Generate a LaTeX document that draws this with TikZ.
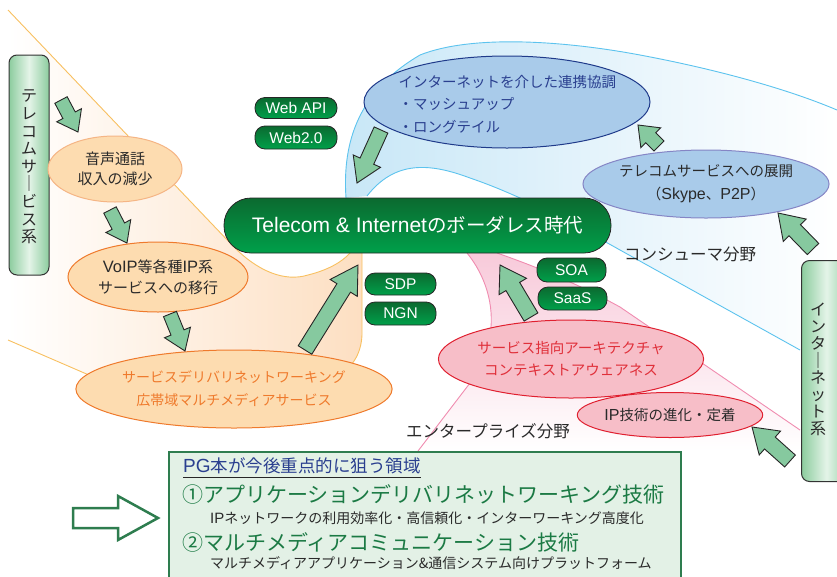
\documentclass[tikz,border=0pt]{standalone}
\usepackage{fontspec}
\setmainfont{Noto Sans CJK JP}
\newfontfamily\lat{Liberation Sans}
\usetikzlibrary{calc,shapes.geometric}
\definecolor{garrowfill}{HTML}{86C99F}
\definecolor{pillA}{HTML}{0B6A30}
\definecolor{pillB}{HTML}{00A04A}
\definecolor{orline}{HTML}{F8C060}
\definecolor{orfill}{HTML}{FDDFC2}
\definecolor{bluel}{HTML}{5CC3EE}
\definecolor{bluef}{HTML}{C8E7F7}
\definecolor{pinkl}{HTML}{F08CB0}
\definecolor{pinkf}{HTML}{F8CADA}
\definecolor{ellO}{HTML}{FDDCB0}
\definecolor{ellOl}{HTML}{EF7A2C}
\definecolor{ellOl2}{HTML}{F5B585}
\definecolor{ellB}{HTML}{A9CBEA}
\definecolor{ellBl}{HTML}{1F3A8A}
\definecolor{ellBl2}{HTML}{8585C5}
\definecolor{ellR}{HTML}{F7BEC8}
\definecolor{ellRl}{HTML}{E02030}
\definecolor{txtR}{HTML}{E0303A}
\definecolor{txtO}{HTML}{EF7A2C}
\definecolor{txtB}{HTML}{2A3F8F}
\definecolor{boxF}{HTML}{E3F1E6}
\definecolor{boxL}{HTML}{2E7D4F}
\definecolor{gtext}{HTML}{1B7A44}
\definecolor{vboxE}{HTML}{8CCC9E}
\definecolor{vboxM}{HTML}{E4F4E8}
\definecolor{dtext}{HTML}{2A2A2A}
\tikzset{
  pill/.style={rectangle, rounded corners=10pt, draw=black!85, line width=0.8pt,
    top color=pillA, bottom color=pillB, text=white, inner sep=0pt,
    font=\lat\fontsize{15.5}{15.5}\selectfont},
  ell/.style={ellipse, inner sep=0pt, line width=1pt, align=center},
  garrowst/.style={draw=black!85, fill=garrowfill, line width=0.9pt, line join=miter},
  vbox/.style={rectangle, rounded corners=8pt, draw=black!80, line width=1pt,
    left color=vboxE, right color=vboxE, middle color=vboxM, inner sep=0pt},
  vtext/.style={align=center, text=dtext, font=\fontsize{16}{17.6}\selectfont},
  lbl/.style={text=dtext, font=\fontsize{16.5}{16.5}\selectfont},
}
\newcommand\garr[6]{%
  \coordinate (#1-t) at #2; \coordinate (#1-h) at #3;
  \coordinate (#1-b) at ($(#1-h)!#6!(#1-t)$);
  \draw[garrowst] ($(#1-t)!#4!90:(#1-h)$) -- ($(#1-t)!#4!-90:(#1-h)$)
    -- ($(#1-b)!#4!-90:(#1-h)$) -- ($(#1-b)!#5!-90:(#1-h)$) -- (#1-h)
    -- ($(#1-b)!#5!90:(#1-h)$) -- ($(#1-b)!#4!90:(#1-h)$) -- cycle;}
\begin{document}
\begin{tikzpicture}[x=1pt,y=-1pt]
\useasboundingbox (0,0) rectangle (837,576);
% ---- orange region
\path[left color=white, right color=orfill]
  (8,10) -- (232,245) .. controls (258,272) and (285,282) .. (308,275)
  .. controls (328,270) and (342,262) .. (350,253) -- (362,253) -- (362,335)
  .. controls (361,355) and (352,368) .. (335,378) -- (112,385) -- (8,340) -- cycle;
\draw[orline, line width=0.9pt] (8,10) -- (232,245) .. controls (258,272) and (285,282) .. (308,275)
  .. controls (328,270) and (342,262) .. (350,253);
\draw[orline, line width=0.9pt] (362,253) -- (362,335) .. controls (361,355) and (352,368) .. (335,378);
\draw[orline, line width=0.9pt] (8,340) -- (112,385);
% ---- blue region
\path[left color=bluef, right color=white]
  (346,198) .. controls (342,140) and (360,90) .. (420,55)
  .. controls (470,35) and (560,40) .. (640,55) .. controls (720,70) and (790,90) .. (837,110)
  -- (837,350) -- (800,350) -- (620,250) .. controls (570,222) and (520,195) .. (470,178)
  .. controls (430,163) and (395,160) .. (367,196) -- cycle;
\draw[bluel, line width=0.9pt] (346,198) .. controls (342,140) and (360,90) .. (420,55)
  .. controls (470,35) and (560,40) .. (640,55) .. controls (720,70) and (790,90) .. (837,110);
\draw[bluel, line width=0.9pt] (800,350) -- (620,250) .. controls (570,222) and (520,195) .. (470,178)
  .. controls (430,163) and (395,160) .. (367,196);
% ---- pink region
\path[top color=pinkf, bottom color=white]
  (467,253) -- (497,253) .. controls (540,268) and (580,285) .. (620,307) -- (800,430)
  -- (800,451) -- (418,451) -- (470,383) .. controls (480,370) and (487,355) .. (490,335)
  .. controls (495,305) and (485,275) .. (467,253) -- cycle;
\draw[pinkl, line width=0.9pt] (497,253) .. controls (540,268) and (580,285) .. (620,307) -- (800,430);
\draw[pinkl, line width=0.9pt] (418,451) -- (470,383) .. controls (480,370) and (487,355) .. (490,335)
  .. controls (495,305) and (485,275) .. (467,253);
% ---- vertical boxes
\node[vbox, minimum width=40pt, minimum height=220pt] (tel) at (29,165) {};
\node[vtext] (telt) at (29,167) {テ\\レ\\コ\\ム\\サ\\｜\\ビ\\ス\\系};
\node[vbox, minimum width=50pt, minimum height=221pt, anchor=north west] (inet) at (801,260) {};
\node[vtext, font=\fontsize{16}{17}\selectfont] (inett) at (818,369) {イ\\ン\\タ\\｜\\ネ\\ッ\\ト\\系};
% ---- ellipses
\node[ell, draw=ellOl2, fill=ellO, minimum width=134pt, minimum height=66pt,
  font=\fontsize{15}{20}\selectfont, text=dtext] (e1) at (115,169) {音声通話\\収入の減少};
\node[ell, draw=ellOl, fill=ellO, minimum width=180pt, minimum height=70pt,
  font=\fontsize{15}{21}\selectfont, text=dtext] (e2) at (158,277) {{\lat\fontsize{16.5}{21}\selectfont VoIP}等各種{\lat\fontsize{16.5}{21}\selectfont IP}系\\サービスへの移行};
\node[ell, draw=ellOl, fill=ellO, minimum width=246pt, minimum height=78pt,
  font=\fontsize{14}{23}\selectfont, text=txtO] (e3) at (234,389) {サービスデリバリネットワーキング\\広帯域マルチメディアサービス};
\node[ell, draw=ellBl, fill=ellB, minimum width=286pt, minimum height=92pt] (eb) at (507,102) {};
\node[anchor=west, align=left, text=txtB, font=\fontsize{14.5}{22.5}\selectfont] (ebt) at (395,104)
  {インターネットを介した連携協調\\・マッシュアップ\\・ロングテイル};
\node[ell, draw=ellBl2, fill=ellB, minimum width=226pt, minimum height=68pt,
  font=\fontsize{14.5}{23}\selectfont, text=dtext] (ec) at (706,184) {テレコムサービスへの展開\\（{\lat\fontsize{16}{23}\selectfont Skype}、{\lat\fontsize{16}{23}\selectfont P2P}）};
\node[ell, draw=ellRl, fill=ellR, minimum width=228pt, minimum height=78pt,
  font=\fontsize{14.5}{22}\selectfont, text=txtR] (er1) at (571,359) {サービス指向アーキテクチャ\\コンテキストアウェアネス};
\node[ell, draw=ellRl, fill=ellR, minimum width=176pt, minimum height=45pt,
  font=\fontsize{14.5}{18}\selectfont, text=dtext] (er2) at (670,415) {{\lat\fontsize{16}{18}\selectfont IP}技術の進化・定着};
% ---- main node and pills
\node[pill, rounded corners=27pt, minimum width=387pt, minimum height=55pt,
  font=\fontsize{19.5}{19.5}\selectfont] (main) at (417.5,225.5) {{\lat\fontsize{21}{21}\selectfont Telecom \& Internet}のボーダレス時代};
\node[pill, minimum width=82pt, minimum height=21pt] (webapi) at (296,108) {Web API};
\node[pill, minimum width=82pt, minimum height=23pt] (web20) at (296,137.5) {Web2.0};
\node[pill, minimum width=71pt, minimum height=22pt] (sdp) at (400.5,284) {SDP};
\node[pill, minimum width=71pt, minimum height=23pt] (ngn) at (400.5,313.5) {NGN};
\node[pill, minimum width=69pt, minimum height=24pt] (soa) at (571.5,270) {SOA};
\node[pill, minimum width=69pt, minimum height=23pt] (saas) at (572.5,298.5) {SaaS};
% ---- labels
\node[lbl] (cons) at (690,254) {コンシューマ分野};
\node[lbl] (ent) at (488,431) {エンタープライズ分野};
% ---- green block arrows
\garr{a1}{(61,100)}{(78,132)}{7pt}{14pt}{19pt}
\garr{a2}{(110,210)}{(127,243)}{7pt}{14pt}{19pt}
\garr{a3}{(170,314)}{(185,351)}{7pt}{14pt}{20pt}
\garr{a4}{(305,350)}{(358,265)}{8pt}{16pt}{27pt}
\garr{a5}{(381,130)}{(357,183)}{7.5pt}{15pt}{24pt}
\garr{a6}{(659,146)}{(638,125)}{7pt}{14pt}{18pt}
\garr{a7}{(813,249)}{(778,213)}{8pt}{16pt}{24pt}
\garr{a8}{(531,317)}{(500,265)}{8pt}{16pt}{25pt}
\garr{a9}{(790,461)}{(752,427)}{8pt}{16pt}{24pt}
% ---- bottom box
\node[draw=boxL, fill=boxF, line width=1.5pt, minimum width=512pt, minimum height=135pt,
  anchor=north west, inner sep=0pt] (box) at (168,451) {};
\node[anchor=west, text=txtB, font=\fontsize{17.5}{17.5}\selectfont, inner sep=0pt] (t0) at (183,466) {{\lat\fontsize{19}{19}\selectfont PG}本が今後重点的に狙う領域};
\draw[black!85, line width=0.8pt] ([yshift=-3pt]t0.south west) -- ([yshift=-3pt]t0.south east);
\node[anchor=west, text=gtext, font=\fontsize{21}{21}\selectfont, inner sep=0pt] (t1) at (182,494) {①アプリケーションデリバリネットワーキング技術};
\node[anchor=west, text=dtext, font=\fontsize{14}{14}\selectfont, inner sep=0pt] (t2) at (210,518) {{\lat\fontsize{15}{15}\selectfont IP}ネットワークの利用効率化・高信頼化・インターワーキング高度化};
\node[anchor=west, text=gtext, font=\fontsize{21}{21}\selectfont, inner sep=0pt] (t3) at (182,542) {②マルチメディアコミュニケーション技術};
\node[anchor=west, text=dtext, font=\fontsize{14}{14}\selectfont, inner sep=0pt] (t4) at (210,563) {マルチメディアアプリケーション\&通信システム向けプラットフォーム};
% ---- hollow arrow
\draw[boxL, line width=2.5pt, fill=white, line join=miter]
  (73,508) -- (118,508) -- (118,496) -- (158,518) -- (118,540) -- (118,528) -- (73,528) -- cycle;
\end{tikzpicture}
\end{document}
